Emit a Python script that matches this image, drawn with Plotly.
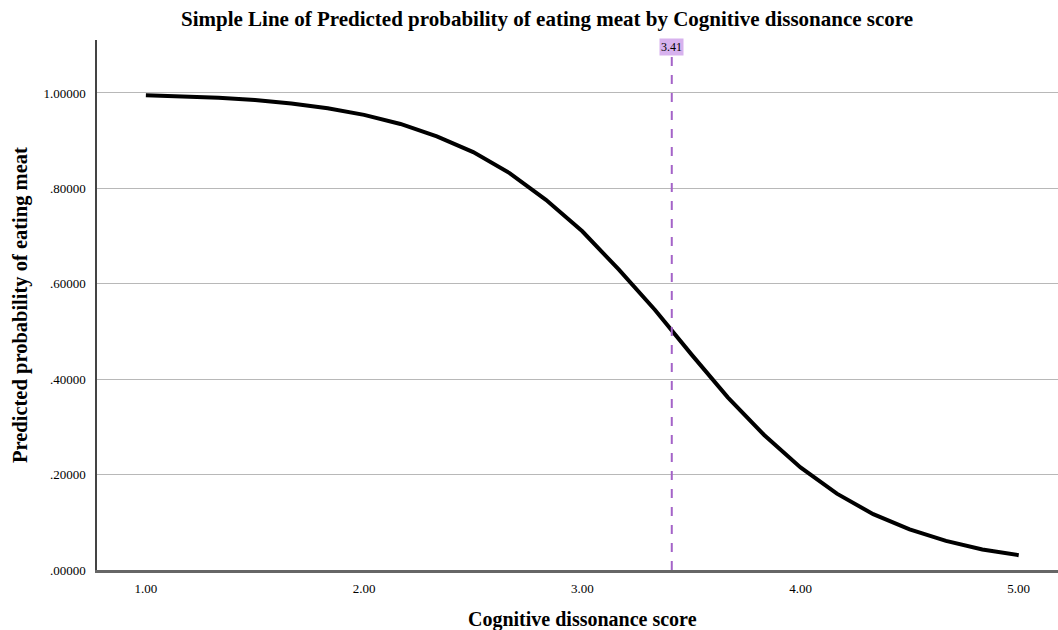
import plotly.graph_objects as go

# Data
cognitive_dissonance = [1.00, 1.1667, 1.3333, 1.50, 1.6667, 1.8333, 2.00, 2.1667, 2.3333, 2.50,
                        2.6667, 2.8333, 3.00, 3.1667, 3.3333, 3.50, 3.6667, 3.8333, 4.00,
                        4.1667, 4.3333, 4.50, 4.6667, 4.8333, 5.00]
predicted_prob = [0.995, 0.993, 0.990, 0.985, 0.978, 0.968, 0.954, 0.935, 0.909, 0.876,
                  0.832, 0.776, 0.710, 0.630, 0.545, 0.452, 0.362, 0.283, 0.215,
                  0.160, 0.117, 0.085, 0.061, 0.043, 0.031]
ref_line_x = 3.41
ref_line_label = "3.41"
x_tickvals = [1, 2, 3, 4, 5]
x_ticktext = ["1.00", "2.00", "3.00", "4.00", "5.00"]
y_tickvals = [0, 0.2, 0.4, 0.6, 0.8, 1.0]
y_ticktext = [".00000", ".20000", ".40000", ".60000", ".80000", "1.00000"]

title_text = "Simple Line of Predicted probability of eating meat by Cognitive dissonance score"
x_title = "Cognitive dissonance score"
y_title = "Predicted probability of eating meat"

SERIF = "Liberation Serif, Times New Roman, serif"

fig = go.Figure()
fig.add_trace(go.Scatter(
    x=cognitive_dissonance, y=predicted_prob, mode="lines",
    line=dict(color="black", width=4), showlegend=False, hoverinfo="skip"))

fig.add_shape(type="line", xref="x", yref="y", x0=ref_line_x, x1=ref_line_x,
              y0=0, y1=1.08, line=dict(color="#a463c8", width=2, dash="dash"))
fig.add_annotation(x=ref_line_x, y=1.097, xref="x", yref="y", text=ref_line_label,
                   showarrow=False, yanchor="middle",
                   font=dict(family=SERIF, size=12, color="black"),
                   bgcolor="#d7b2ee", borderpad=1)

# Title and axis titles placed as annotations in paper/pixel space
fig.add_annotation(text="<b>" + title_text + "</b>", xref="paper", yref="paper",
                   x=0.468, y=1.0, yshift=21, xanchor="center", yanchor="middle",
                   showarrow=False, font=dict(family=SERIF, size=21, color="black"))
fig.add_annotation(text="<b>" + x_title + "</b>", xref="paper", yref="paper",
                   x=0.505, y=0, yshift=-49, xanchor="center", yanchor="middle",
                   showarrow=False, font=dict(family=SERIF, size=20, color="black"))
fig.add_annotation(text="<b>" + y_title + "</b>", xref="paper", yref="paper",
                   x=0, xshift=-77, y=0.5, xanchor="center", yanchor="middle", textangle=-90,
                   showarrow=False, font=dict(family=SERIF, size=20.5, color="black"))

fig.update_layout(
    width=1058, height=630,
    margin=dict(l=97, r=0, t=40, b=60, autoexpand=False),
    paper_bgcolor="white", plot_bgcolor="white",
    xaxis=dict(range=[0.776, 5.18], tickvals=x_tickvals, ticktext=x_ticktext,
               showgrid=False, zeroline=False, showline=True, linecolor="#666666", linewidth=3,
               ticks="", automargin=False, ticklabelstandoff=4,
               tickfont=dict(family=SERIF, size=13, color="black")),
    yaxis=dict(range=[0, 1.111], tickvals=y_tickvals, ticktext=y_ticktext,
               showgrid=True, gridcolor="#b8b8b8", gridwidth=1, zeroline=False,
               showline=True, linecolor="#444444", linewidth=1.5,
               ticks="", automargin=False, ticklabelstandoff=7,
               tickfont=dict(family=SERIF, size=13, color="black")),
)

fig.write_html("out.html", config={"displayModeBar": False},
               post_script="document.body.style.margin='0';document.body.style.overflow='hidden';")
